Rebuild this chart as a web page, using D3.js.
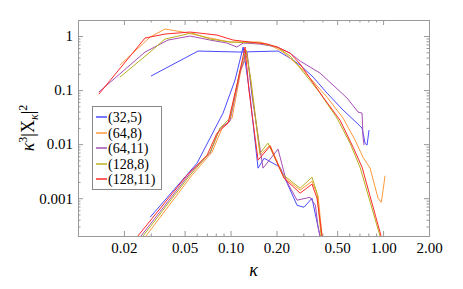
<html>
<head>
  <script src="https://d3js.org/d3.v7.min.js"></script>
  <style>
    body { margin: 0; background: #fff; }
    svg text { font-family: "Liberation Serif", "DejaVu Serif", "Times New Roman", serif !important; }
    .frame { fill: none; stroke: #999; }
    .axis line { stroke: #999; }
    .curve { fill: none; stroke-width: 1; }
  </style>
</head>
<body>
<script>
// series labels and colours
var labels = ["(32,5)", "(64,8)", "(64,11)", "(128,8)", "(128,11)"];
var colors = ["#4b4bff", "#ff9a3c", "#a64fb4", "#b8b01e", "#ff2a2a"];

// upper curves [kappa, value]
var hi_32_5 = [[0.0301,0.182],[0.0612,0.527],[0.115,0.506],[0.205,0.527],[0.245,0.392],[0.286,0.29],[0.348,0.174],[0.429,0.088],[0.547,0.0426],[0.675,0.0245],[0.728,0.0198],[0.762,0.0104],[0.785,0.0096],[0.809,0.0182]];
var hi_64_8 = [[0.01885,0.29],[0.0297,0.958],[0.0372,1.348],[0.0488,1.186],[0.0734,0.918],[0.0992,0.774],[0.156,0.774],[0.1815,0.681],[0.221,0.5055],[0.286,0.267],[0.429,0.0742],[0.547,0.0303],[0.655,0.0119],[0.739,0.0057],[0.822,0.0036],[0.927,0.001],[0.97,0.00084],[0.985,0.00104],[1.03,0.0026]];
var hi_64_11 = [[0.0137,0.0918],[0.0275,0.5055],[0.0389,0.843],[0.0543,1.0],[0.0734,0.843],[0.0948,0.742],[0.110,0.626],[0.121,0.742],[0.156,0.711],[0.202,0.626],[0.2455,0.484],[0.286,0.344],[0.386,0.2064],[0.470,0.1239],[0.581,0.0711],[0.686,0.0392],[0.728,0.0375],[0.739,0.0135],[0.75,0.0096]];
var hi_128_8 = [[0.01885,0.174],[0.0297,0.5055],[0.0372,0.88],[0.0555,1.137],[0.0734,0.88],[0.0992,0.774],[0.156,0.742],[0.202,0.626],[0.2455,0.4265],[0.286,0.2555],[0.386,0.088],[0.499,0.0303],[0.6075,0.0104],[0.706,0.00375],[0.955,0.0002]];
var hi_128_11 = [[0.0137,0.0843],[0.0275,0.918],[0.0372,1.089],[0.0543,1.186],[0.0815,1.043],[0.104,0.843],[0.1735,0.711],[0.202,0.626],[0.2455,0.484],[0.286,0.303],[0.404,0.0742],[0.522,0.0278],[0.636,0.0088],[0.728,0.00375],[0.97,0.0002]];

// lower curves [kappa, value]
var lo_32_5 = [[0.0297,0.000445],[0.0603,0.00445],[0.0893,0.0375],[0.107,0.153],[0.121,0.626],[0.134,0.0808],[0.1515,0.0036],[0.166,0.0055],[0.211,0.00375],[0.273,0.00074],[0.303,0.00068],[0.342,0.001],[0.375,0.00029],[0.386,0.0002]];
var lo_64_8 = [[0.0279,0.0002],[0.0559,0.00267],[0.0756,0.00711],[0.088,0.0198],[0.1023,0.0303],[0.117,0.2345],[0.1283,0.445],[0.138,0.1],[0.156,0.00626],[0.1815,0.00958],[0.224,0.00245],[0.286,0.00141],[0.342,0.00206],[0.375,0.0011],[0.398,0.0002]];
var lo_64_11 = [[0.0259,0.0002],[0.0543,0.0029],[0.0734,0.00681],[0.0853,0.0198],[0.0992,0.0267],[0.1154,0.2154],[0.1283,0.5055],[0.138,0.0808],[0.1633,0.0036],[0.2048,0.0081],[0.2312,0.00215],[0.273,0.00092],[0.332,0.00104],[0.36,0.00074],[0.375,0.00029],[0.386,0.0002]];
var lo_128_8 = [[0.0267,0.0002],[0.0543,0.00267],[0.0734,0.00711],[0.0853,0.0198],[0.0992,0.0303],[0.1154,0.2345],[0.1264,0.551],[0.136,0.153],[0.156,0.00681],[0.176,0.01044],[0.218,0.0028],[0.286,0.00153],[0.342,0.00245],[0.369,0.00124],[0.392,0.0002]];
var lo_128_11 = [[0.0247,0.0002],[0.0519,0.00267],[0.0702,0.00626],[0.0815,0.016],[0.0963,0.0245],[0.112,0.153],[0.1245,0.626],[0.132,0.1],[0.1515,0.00506],[0.1815,0.00918],[0.224,0.00235],[0.286,0.00124],[0.342,0.00182],[0.369,0.001],[0.398,0.0002]];

var upper = [hi_32_5, hi_64_8, hi_64_11, hi_128_8, hi_128_11];
var lower = [lo_32_5, lo_64_8, lo_64_11, lo_128_8, lo_128_11];

var xTicks = [0.02, 0.05, 0.1, 0.2, 0.5, 1, 2];
var xMinor = [0.03, 0.04, 0.06, 0.07, 0.08, 0.09, 0.3, 0.4, 0.6, 0.7, 0.8, 0.9];
var yTicks = [0.001, 0.01, 0.1, 1];
var yLabels = ["0.001", "0.01", "0.1", "1"];

var width = 463, height = 289;
var pLeft = 78, pRight = 429, pTop = 20, pBottom = 236;

var svg = d3.select("body").append("svg")
  .attr("width", width)
  .attr("height", height);

var x = d3.scaleLog().domain([0.01, 2]).range([pLeft, pRight]);
var y = d3.scaleLog().domain([0.0002, 1.98]).range([pBottom, pTop]);

var yMinor = y.ticks().filter(function(v) {
  return !yTicks.some(function(t) { return Math.abs(t - v) / t < 1e-6; });
});

svg.append("defs").append("clipPath").attr("id", "clip")
  .append("rect")
  .attr("x", pLeft).attr("y", pTop)
  .attr("width", pRight - pLeft).attr("height", pBottom - pTop);

function addAxis(axis, tx, ty) {
  var g = svg.append("g").attr("class", "axis")
    .attr("transform", "translate(" + tx + "," + ty + ")")
    .call(axis)
    .attr("font-size", 15);
  g.select(".domain").remove();
  g.selectAll("text").attr("fill", "#000");
  return g;
}

// bottom / top
addAxis(d3.axisBottom(x).tickValues(xTicks).tickSize(-5).tickPadding(6)
  .tickFormat(d3.format(".2f")), 0, pBottom);
addAxis(d3.axisBottom(x).tickValues(xMinor).tickSize(-2.5).tickFormat(""), 0, pBottom);
addAxis(d3.axisTop(x).tickValues(xTicks).tickSize(-5).tickFormat(""), 0, pTop);
addAxis(d3.axisTop(x).tickValues(xMinor).tickSize(-2.5).tickFormat(""), 0, pTop);

// left / right
addAxis(d3.axisLeft(y).tickValues(yTicks).tickSize(-5).tickPadding(5)
  .tickFormat(function(d, i) { return yLabels[i]; }), pLeft, 0);
addAxis(d3.axisLeft(y).tickValues(yMinor).tickSize(-2.5).tickFormat(""), pLeft, 0);
addAxis(d3.axisRight(y).tickValues(yTicks).tickSize(-5).tickFormat(""), pRight, 0);
addAxis(d3.axisRight(y).tickValues(yMinor).tickSize(-2.5).tickFormat(""), pRight, 0);

svg.append("rect").attr("class", "frame")
  .attr("x", pLeft + 0.5).attr("y", pTop + 0.5)
  .attr("width", pRight - pLeft).attr("height", pBottom - pTop);

var line = d3.line()
  .x(function(d) { return x(d[0]); })
  .y(function(d) { return y(d[1]); });

var curves = svg.append("g").attr("clip-path", "url(#clip)");
[upper, lower].forEach(function(group) {
  group.forEach(function(data, i) {
    curves.append("path")
      .datum(data)
      .attr("class", "curve")
      .attr("stroke", colors[i])
      .attr("d", line);
  });
});

// legend
var legend = svg.append("g").attr("transform", "translate(92,106)");
legend.append("rect")
  .attr("x", 0.5).attr("y", 0.5)
  .attr("width", 69).attr("height", 83)
  .attr("fill", "#fff").attr("stroke", "#888");
labels.forEach(function(lab, i) {
  var ly = Math.round(11 + i * 15.6);
  legend.append("line")
    .attr("x1", 4).attr("x2", 15)
    .attr("y1", ly).attr("y2", ly)
    .attr("stroke-width", 1.5)
    .attr("stroke", colors[i]);
  legend.append("text")
    .attr("x", 16).attr("y", ly + 4.5)
    .attr("font-size", 14)
    .text(lab);
});

// axis labels
svg.append("text")
  .attr("x", (pLeft + pRight) / 2).attr("y", 276)
  .attr("text-anchor", "middle")
  .attr("font-size", 18)
  .attr("font-style", "italic")
  .text("κ");

var yl = svg.append("text")
  .attr("transform", "translate(34," + ((pTop + pBottom) / 2) + ") rotate(-90)")
  .attr("text-anchor", "middle")
  .attr("font-size", 18);
yl.append("tspan").attr("font-style", "italic").text("κ");
yl.append("tspan").attr("dy", -7).attr("font-size", 12).text("3");
yl.append("tspan").attr("dy", 7).text("|X");
yl.append("tspan").attr("dy", 4).attr("font-size", 12).attr("font-style", "italic").text("κ");
yl.append("tspan").attr("dy", -4).text("|");
yl.append("tspan").attr("dy", -7).attr("font-size", 12).text("2");
</script>
</body>
</html>
